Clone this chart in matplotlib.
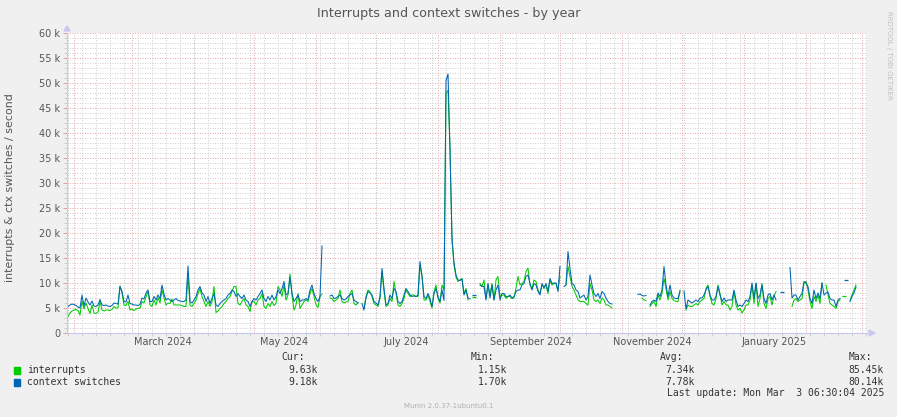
import numpy as np
import pandas as pd
import matplotlib
matplotlib.use("Agg")
import matplotlib.pyplot as plt
from matplotlib.patches import Rectangle
from matplotlib.ticker import MultipleLocator, FuncFormatter
import matplotlib.dates as mdates

plt.rcParams['lines.scale_dashes'] = False
nan = np.nan

# one value per day (thousands per second), 400 days ending Mar 3 2025
start = pd.Timestamp("2024-01-28 06:30")
end = pd.Timestamp("2025-03-03 06:30")

interrupts = [
    3.3, 4.0, 4.4, 4.6, 4.7, 4.5, 3.6, 6.4, 4.8, 6.0,
    4.9, 3.9, 5.6, 4.0, 3.9, 4.2, 6.3, 4.6, 4.4, 4.6,
    4.6, 4.5, 4.7, 5.3, 5.0, 5.0, 9.4, 8.0, 5.6, 5.5,
    6.3, 4.6, 4.8, 4.5, 4.8, 4.9, 5.0, 6.3, 6.0, 7.2,
    8.4, 5.6, 5.3, 6.6, 5.6, 7.0, 6.0, 8.6, 7.0, 5.6,
    6.0, 5.9, 6.8, 5.6, 5.6, 5.6, 5.6, 5.5, 5.3, 5.3,
    11.5, 5.6, 5.3, 5.9, 6.6, 7.9, 8.9, 7.3, 6.3, 5.3,
    6.3, 5.3, 6.3, 9.3, 4.1, 4.4, 4.9, 5.3, 5.9, 6.3,
    6.9, 7.3, 8.3, 9.3, 9.3, 5.9, 5.6, 6.3, 6.9, 5.6,
    5.3, 4.3, 6.3, 6.3, 5.6, 6.6, 6.9, 7.9, 5.3, 4.9,
    5.9, 5.3, 6.3, 5.5, 5.9, 9.3, 8.6, 7.3, 9.6, 6.6,
    7.6, 11.8, 7.6, 4.6, 5.6, 7.9, 4.9, 5.6, 6.3, 6.6,
    6.3, 7.9, 8.9, 7.3, 5.6, 5.1, 7.3, 7.8, nan, nan,
    nan, 7.0, 6.9, 6.3, 6.6, 6.9, 8.6, 6.3, 6.0, 6.2,
    6.3, 7.9, 8.6, 5.9, 5.6, 6.1, nan, nan, 5.0, 7.3,
    8.6, 8.3, 7.3, 5.9, 5.6, 5.3, 6.9, 12.3, 8.3, 5.3,
    5.6, 6.9, 6.3, 10.3, 7.9, 5.6, 5.3, 5.9, 6.9, 8.6,
    7.9, 7.3, 7.6, 7.6, 7.3, 7.3, 13.6, 11.6, 6.6, 6.6,
    7.6, 6.3, 5.0, 8.3, 9.6, 6.9, 6.0, 9.6, 8.6, 48.0,
    48.5, 37.0, 18.5, 13.6, 11.2, 10.3, 10.6, 10.9, 7.9, 8.9,
    6.6, nan, nan, 7.3, nan, nan, 9.9, 9.3, 10.6, 6.9,
    9.6, 7.6, 9.9, 6.6, 10.6, 11.3, 7.3, 7.6, 7.6, 6.9,
    7.3, 7.3, 6.9, 7.0, 9.0, 11.3, 9.6, 9.9, 10.3, 12.3,
    13.0, 9.6, 8.9, 10.6, 10.3, 8.6, 7.9, 9.6, 9.3, 9.6,
    7.9, 10.6, 9.6, 9.9, 9.9, 8.6, 11.3, nan, nan, 9.6,
    13.3, 11.3, 9.3, 8.6, 7.6, 6.6, 6.3, 6.3, 6.3, 5.9,
    5.6, 9.9, 8.6, 6.6, 6.3, 6.6, 5.9, 7.0, 6.6, 5.6,
    5.6, 5.3, 5.0, nan, nan, nan, nan, nan, nan, nan,
    nan, nan, nan, nan, nan, nan, nan, 7.0, 6.6, 6.5,
    nan, 5.3, 5.9, 6.3, 5.3, 7.6, 6.6, 7.9, 10.9, 8.9,
    6.6, 8.3, 6.9, 6.5, 6.3, 6.3, 8.6, nan, nan, 4.6,
    5.6, 5.3, 5.3, 5.6, 5.9, 5.6, 6.3, 6.6, 6.9, 8.9,
    9.6, 7.3, 5.9, 5.6, 6.9, 9.6, 7.9, 5.6, 6.3, 5.6,
    5.6, 4.6, 5.3, 8.3, 5.6, 4.6, 4.9, 4.0, 4.6, 5.6,
    5.6, 6.6, 9.6, 5.9, 9.9, 5.3, 6.9, 9.9, 5.9, 4.9,
    6.9, 7.3, 5.6, 7.3, 8.3, nan, nan, nan, nan, nan,
    nan, nan, 5.3, 6.6, 6.9, 6.3, 6.6, 6.9, 10.0, 10.3,
    8.6, 6.3, 4.9, 7.3, 6.3, 7.6, 5.9, 10.0, nan, 9.6,
    7.6, 5.9, 5.6, 5.3, 4.9, 6.3, 6.6, nan, 7.5, nan,
    nan, 6.6, 7.6, 8.6, 9.63, nan, nan, nan, nan, nan,
]

context_switches = [
    5.3, 5.6, 5.8, 5.7, 5.5, 5.2, 5.0, 7.6, 5.4, 7.0,
    6.2, 5.6, 6.4, 5.4, 5.3, 5.6, 6.7, 5.6, 5.5, 5.6,
    5.4, 5.3, 5.5, 6.0, 5.9, 5.8, 9.3, 8.3, 6.3, 6.2,
    7.6, 5.9, 5.8, 5.6, 5.6, 5.5, 5.7, 7.0, 6.8, 8.0,
    8.6, 6.3, 6.3, 7.3, 6.6, 7.6, 6.8, 9.6, 7.8, 6.6,
    6.9, 6.6, 6.3, 6.6, 6.9, 6.5, 6.4, 6.3, 6.3, 6.6,
    13.4, 6.3, 6.0, 6.6, 7.3, 8.6, 9.3, 8.0, 7.6, 6.3,
    7.3, 5.9, 6.9, 7.9, 5.6, 5.3, 5.9, 6.3, 6.6, 6.9,
    7.6, 7.9, 8.6, 8.3, 7.3, 7.9, 7.3, 6.9, 7.6, 6.6,
    6.3, 5.3, 6.3, 6.9, 6.6, 7.3, 7.9, 8.6, 6.9, 6.3,
    7.3, 6.6, 7.6, 6.6, 7.3, 8.6, 7.9, 8.9, 10.3, 7.6,
    7.9, 11.2, 7.9, 6.3, 6.9, 7.6, 6.3, 6.6, 6.6, 6.9,
    6.6, 8.6, 9.6, 7.9, 6.9, 6.3, 7.3, 17.4, nan, nan,
    nan, 7.4, 7.6, 6.9, 7.0, 7.3, 7.6, 6.9, 6.6, 6.8,
    7.3, 7.6, 7.9, 6.6, 6.3, 6.0, nan, 5.9, 4.6, 7.0,
    8.3, 8.0, 7.6, 6.3, 6.0, 5.6, 7.3, 12.9, 8.9, 5.6,
    5.9, 7.6, 6.9, 8.9, 8.3, 6.3, 5.9, 6.3, 7.6, 8.9,
    8.3, 7.6, 7.3, 7.4, 7.3, 7.6, 14.3, 11.2, 7.3, 6.9,
    7.9, 6.9, 5.3, 7.9, 8.9, 7.3, 6.3, 8.6, 6.5, 50.5,
    51.8, 36.5, 19.0, 14.0, 11.6, 10.6, 10.5, 10.8, 7.6, 8.6,
    7.0, 6.8, nan, 7.6, nan, nan, 9.6, 9.3, 9.3, 6.6,
    9.9, 7.0, 9.6, 6.6, 8.6, 9.6, 6.6, 7.9, 7.9, 7.3,
    7.3, 7.6, 7.0, 7.3, 8.3, 8.6, 8.6, 9.6, 9.9, 11.3,
    11.6, 9.9, 8.6, 9.9, 9.6, 8.3, 7.6, 9.9, 8.9, 9.9,
    8.3, 10.9, 9.9, 10.0, 10.0, 8.3, 13.3, nan, 9.3, 9.6,
    16.3, 12.9, 9.9, 9.6, 8.6, 8.3, 7.0, 7.3, 7.6, 6.6,
    7.3, 11.6, 9.6, 7.9, 7.3, 7.9, 6.9, 8.3, 7.9, 7.0,
    6.3, 5.9, 5.8, nan, nan, nan, nan, nan, nan, nan,
    nan, nan, nan, nan, nan, 7.7, 7.8, 7.5, 7.4, 7.5,
    nan, 5.6, 6.3, 6.6, 6.3, 8.0, 7.3, 8.6, 13.3, 9.6,
    7.3, 9.6, 7.6, 7.0, 6.9, 6.9, 8.3, nan, 8.4, 4.8,
    6.6, 6.3, 6.0, 6.3, 6.6, 6.3, 7.0, 7.0, 7.6, 8.6,
    9.3, 7.6, 6.6, 6.6, 7.3, 9.3, 7.6, 6.3, 7.0, 6.3,
    6.6, 6.6, 6.6, 8.6, 6.6, 5.3, 5.6, 5.3, 5.9, 6.6,
    6.3, 7.3, 10.0, 6.9, 10.0, 6.9, 7.6, 9.6, 6.9, 5.9,
    7.6, 7.9, 6.6, 7.6, 6.6, nan, nan, 8.2, nan, nan,
    nan, 13.1, 7.0, 7.6, 7.6, 6.6, 7.3, 7.9, 10.3, 10.0,
    9.3, 6.9, 5.9, 8.6, 6.9, 8.0, 6.9, 10.0, 7.6, 8.0,
    8.2, 6.9, 6.6, 6.6, 5.3, 6.6, 6.9, nan, nan, 10.6,
    nan, 6.3, 7.3, 8.0, 9.18, nan, nan, nan, nan, nan,
]

series_names = ["interrupts", "context switches"]
series_colors = ["#00cc00", "#0066b3"]
cur_vals = ["9.63k", "9.18k"]
min_vals = ["1.15k", "1.70k"]
avg_vals = ["7.34k", "7.78k"]
max_vals = ["85.45k", "80.14k"]
month_labels = ["March 2024", "May 2024", "July 2024", "September 2024",
                "November 2024", "January 2025"]
label_months = ["2024-03-01", "2024-05-01", "2024-07-01", "2024-09-01",
                "2024-11-01", "2025-01-01"]

W, H = 897, 417
days = start + pd.to_timedelta(np.arange(len(interrupts)) + 0.5, unit="D")

fig = plt.figure(figsize=(W / 100, H / 100), dpi=100, facecolor="#f0f0f0")
ax = fig.add_axes([67 / W, 1 - 333 / H, 800 / W, 300 / H])
ax.set_facecolor("white")

major_col = "#e09c9c"
minor_col = "#c8c8c8"
dots = (0, (0.72, 1.08))

# grid
for m in pd.date_range("2024-02-01", "2025-03-01", freq="MS"):
    ax.axvline(m, color=major_col, lw=0.6, ls=dots, zorder=0.6)
ax.xaxis.set_minor_locator(mdates.WeekdayLocator(byweekday=mdates.MO))
ax.yaxis.set_major_locator(MultipleLocator(5))
ax.yaxis.set_minor_locator(MultipleLocator(1))
ax.grid(which="minor", color=minor_col, lw=0.6, ls=dots, zorder=0.5)
ax.grid(which="major", axis="y", color=major_col, lw=0.6, ls=dots, zorder=0.6)

# data
for vals, col in zip([interrupts, context_switches], series_colors):
    v = np.array(vals, dtype=float)
    ax.plot(days, v, color=col, lw=0.75, zorder=3)
    ok = ~np.isnan(v)
    lone = ok & ~np.r_[False, ok[:-1]] & ~np.r_[ok[1:], False]
    ax.plot(days[lone], v[lone], ls="none", marker="_", ms=2.5, mew=0.9,
            color=col, zorder=3)

ax.set_xlim(start, end)
ax.set_ylim(0, 60)

ax.set_xticks([pd.Timestamp(d) + pd.Timedelta(days=15) for d in label_months])
ax.set_xticklabels(month_labels)
ax.tick_params(axis="x", which="major", length=0, pad=3, labelsize=7,
               labelcolor="#555555")
ax.tick_params(axis="x", which="minor", length=2, color="#c8c8c8")
ax.yaxis.set_major_formatter(FuncFormatter(lambda v, p: "0" if v == 0 else f"{v:.0f} k"))
ax.tick_params(axis="y", which="major", length=3, width=0.7, color=major_col,
               pad=2, labelsize=7, labelcolor="#555555")
ax.tick_params(axis="y", which="minor", length=2, width=0.6, color=minor_col)

for s in ["top", "right"]:
    ax.spines[s].set_visible(False)
for s in ["left", "bottom"]:
    ax.spines[s].set_color("#c8c8ee")
    ax.spines[s].set_linewidth(0.8)
    ax.spines[s].set_zorder(4)

# axis arrows
fig.add_artist(plt.Polygon([[64 / W, 1 - 31 / H], [70 / W, 1 - 31 / H], [67 / W, 1 - 26 / H]],
                           closed=True, color="#c8c8ee", transform=fig.transFigure))
fig.add_artist(plt.Polygon([[869 / W, 1 - 330 / H], [869 / W, 1 - 336 / H], [875 / W, 1 - 333 / H]],
                           closed=True, color="#c8c8ee", transform=fig.transFigure))

fig.text(449 / W, 1 - 14 / H, "Interrupts and context switches - by year",
         ha="center", va="center", fontsize=9.2, color="#555555")
fig.text(10 / W, 1 - 188 / H, "interrupts & ctx switches / second", rotation=90,
         ha="center", va="center", fontsize=7.9, color="#555555")
fig.text(889 / W, 1 - 55 / H, "RRDTOOL / TOBI OETIKER", rotation=270,
         ha="center", va="center", fontsize=5, color="#c0c0c0")

# legend block
mono = dict(family="DejaVu Sans Mono", fontsize=7, color="#333333", va="center")
cols_x = [305, 494, 683, 872]
vals_x = [318, 507, 695, 884]
for hdr, x in zip(["Cur:", "Min:", "Avg:", "Max:"], cols_x):
    fig.text(x / W, 1 - 357 / H, hdr, ha="right", **mono)
for i, name in enumerate(series_names):
    y = 370 + 12 * i
    fig.add_artist(Rectangle((14 / W, 1 - (y + 3.5) / H), 6 / W, 7 / H,
                             color=series_colors[i], transform=fig.transFigure))
    fig.text(27 / W, 1 - y / H, name, ha="left", **mono)
    for v, x in zip([cur_vals[i], min_vals[i], avg_vals[i], max_vals[i]], vals_x):
        fig.text(x / W, 1 - y / H, v, ha="right", **mono)
fig.text(884 / W, 1 - 393 / H, "Last update: Mon Mar  3 06:30:04 2025", ha="right", **mono)
fig.text(449 / W, 1 - 406 / H, "Munin 2.0.37-1ubuntu0.1", ha="center", va="center",
         fontsize=5, color="#b0b0b0")

fig.savefig("out.png", dpi=100, facecolor=fig.get_facecolor())
